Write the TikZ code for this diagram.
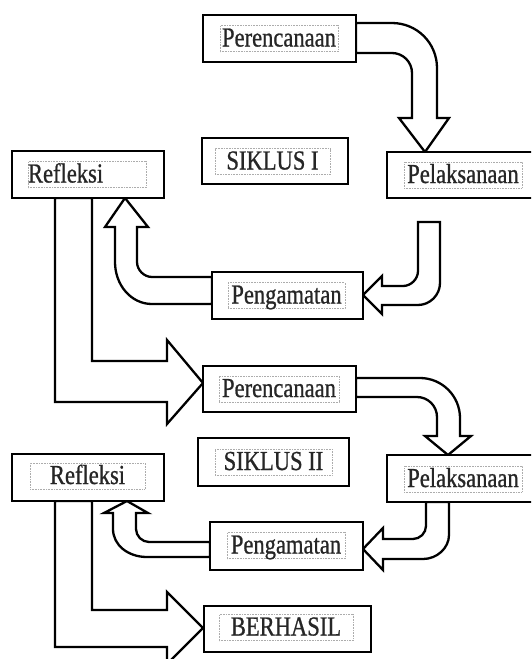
\documentclass[tikz,border=0pt]{standalone}
\usepackage{fontspec}
\newfontfamily\boxfont[FakeStretch=0.82,FakeBold=0.8]{Liberation Serif}
\begin{document}
\begin{tikzpicture}[x=1pt,y=-1pt,
  outerbox/.style={draw=black, line width=2.5pt, fill=white, inner sep=0pt},
  textbox/.style={draw=gray!65, densely dotted, line width=0.6pt, inner xsep=0pt, inner ysep=0pt,
    text=black!85, font=\boxfont\fontsize{27.5}{30}\selectfont, text height=21pt, text depth=5pt},
  blockarrow/.style={draw=black, line width=2.3pt, fill=white, line join=miter}]
\useasboundingbox (0,0) rectangle (531,659);
\clip (0,0) rectangle (531,659);

% ---- block arrows (drawn first) ----
% Perencanaan -> Pelaksanaan (cycle I)
\draw[blockarrow] (356,23) -- (392,23) .. controls (417,23) and (437,43) .. (437,68) -- (437,118) -- (449,118) -- (425,152) -- (399,118) -- (412,118) -- (412,73) .. controls (412,62) and (403,53) .. (392,53) -- (356,53) -- cycle;
% Pelaksanaan -> Pengamatan (cycle I)
\draw[blockarrow] (418,222) -- (440,222) -- (440,283) .. controls (440,295) and (430,305) .. (418,305) -- (382,305) -- (382,314) -- (363,295) -- (382,276) -- (382,286) -- (403,286) .. controls (411,286) and (418,279) .. (418,271) -- cycle;
% Pengamatan -> Refleksi (cycle I)
\draw[blockarrow] (212,277) -- (152,277) .. controls (144,277) and (137,270) .. (137,262) -- (137,227) -- (148,227) -- (125,198) -- (105,227) -- (115,227) -- (115,262) .. controls (115,285) and (131,304) .. (152,304) -- (212,304) -- cycle;
% Refleksi -> Perencanaan (cycle II)
\draw[blockarrow] (92,198) -- (92,361) -- (167,361) -- (167,340) -- (203,383) -- (167,424) -- (167,402) -- (55,402) -- (55,198) -- cycle;
% Perencanaan -> Pelaksanaan (cycle II)
\draw[blockarrow] (356,378) -- (420,378) .. controls (442,378) and (460,396) .. (460,418) -- (460,436) -- (471,436) -- (448,455) -- (425,436) -- (437,436) -- (437,417) .. controls (437,406) and (428,397) .. (417,397) -- (356,397) -- cycle;
% Pelaksanaan -> Pengamatan (cycle II)
\draw[blockarrow] (426,502) -- (449,502) -- (449,535) .. controls (449,548) and (437,559) .. (423,559) -- (383,559) -- (383,570) -- (363,549) -- (383,528) -- (383,539) -- (413,539) .. controls (420,539) and (426,533) .. (426,526) -- cycle;
% Pengamatan -> Refleksi (cycle II)
\draw[blockarrow] (210,542) -- (149,542) .. controls (142,542) and (136,536) .. (136,529) -- (136,513) -- (148,513) -- (127,501) -- (104,513) -- (113,513) -- (113,529) .. controls (113,545) and (128,557) .. (147,557) -- (210,557) -- cycle;
% Refleksi -> BERHASIL
\draw[blockarrow] (92,501) -- (92,610) -- (167,610) -- (167,592) -- (203,628) -- (167,664) -- (167,647) -- (55,647) -- (55,501) -- cycle;

% ---- boxes ----
\node[outerbox, minimum width=153pt, minimum height=47pt] (p1) at (279.5,38.5) {};
\node[textbox, minimum width=118pt] (p1t) at (279,38.5) {Perencanaan};

\node[outerbox, minimum width=146pt, minimum height=46pt] (s1) at (275,161) {};
\node[textbox, minimum width=115pt] (s1t) at (272.5,161.5) {SIKLUS I};

\node[outerbox, minimum width=153pt, minimum height=46pt] (l1) at (463.5,175) {};
\node[textbox, minimum width=118pt] (l1t) at (463,175) {Pelaksanaan};

\node[outerbox, minimum width=152pt, minimum height=47pt] (r1) at (88,174.5) {};
\node[textbox, minimum width=118pt, text width=118pt, align=left] (r1t) at (87,174.5) {Refleksi};

\node[outerbox, minimum width=151pt, minimum height=47pt] (g1) at (287.5,295.5) {};
\node[textbox, minimum width=117pt] (g1t) at (286.5,295.5) {Pengamatan};

\node[outerbox, minimum width=153pt, minimum height=46pt] (p2) at (279.5,389) {};
\node[textbox, minimum width=120pt] (p2t) at (279,389) {Perencanaan};

\node[outerbox, minimum width=151pt, minimum height=48pt] (s2) at (273.5,462) {};
\node[textbox, minimum width=117pt] (s2t) at (273.5,462) {SIKLUS II};

\node[outerbox, minimum width=153pt, minimum height=47pt] (l2) at (463.5,478.5) {};
\node[textbox, minimum width=118pt] (l2t) at (463,479) {Pelaksanaan};

\node[outerbox, minimum width=152pt, minimum height=47pt] (r2) at (88,477.5) {};
\node[textbox, minimum width=115pt] (r2t) at (87.5,476) {Refleksi};

\node[outerbox, minimum width=153pt, minimum height=48pt] (g2) at (286.5,546) {};
\node[textbox, minimum width=118pt] (g2t) at (286,545.5) {Pengamatan};

\node[outerbox, minimum width=167pt, minimum height=46pt] (b) at (287.5,629) {};
\node[textbox, minimum width=134pt] (bt) at (286,627.5) {BERHASIL};
\end{tikzpicture}
\end{document}
